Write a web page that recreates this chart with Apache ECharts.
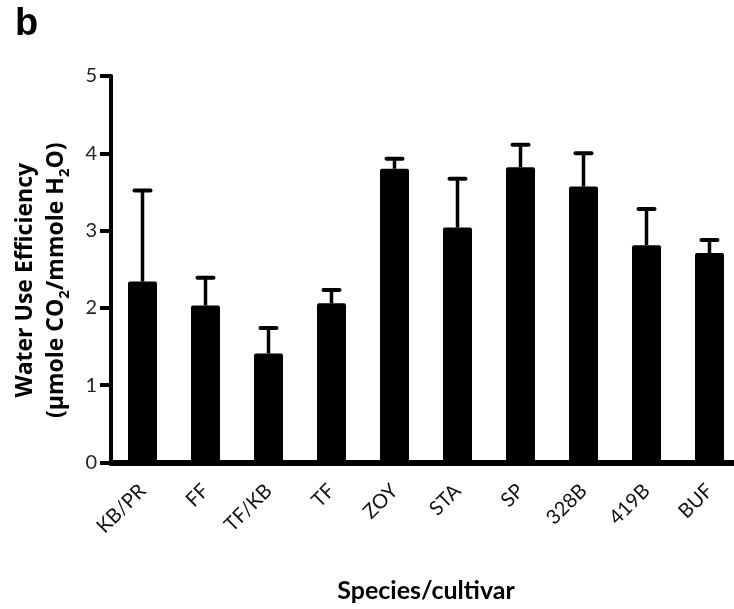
<!DOCTYPE html>
<html>
<head>
<meta charset="utf-8">
<script src="https://cdn.jsdelivr.net/npm/echarts@6/dist/echarts.min.js"></script>
<style>
  html, body { margin: 0; padding: 0; background: #fff; }
  #chart { width: 734px; height: 609px; }
</style>
</head>
<body>
<div id="chart"></div>
<script>
const cultivars = ['KB/PR', 'FF', 'TF/KB', 'TF', 'ZOY', 'STA', 'SP', '328B', '419B', 'BUF']
const wueMean = [2.34, 2.03, 1.41, 2.06, 3.80, 3.04, 3.82, 3.57, 2.81, 2.71]
const wueError = [1.18, 0.36, 0.33, 0.17, 0.13, 0.63, 0.29, 0.43, 0.47, 0.17]
const yTicks = [0, 1, 2, 3, 4, 5]

const chart = echarts.init(document.getElementById('chart'))

function renderErrorBar(params, api) {
  const i = api.value(0)
  const top = api.coord([i, api.value(1) + api.value(2)])
  const base = api.coord([i, api.value(1)])
  const capHalf = 8

  return {
    type: 'group',
    children: [
      {
        type: 'line',
        shape: { x1: base[0], y1: base[1], x2: top[0], y2: top[1] },
        style: { stroke: '#000', lineWidth: 3.5 },
      },
      {
        type: 'line',
        shape: { x1: top[0] - capHalf, y1: top[1], x2: top[0] + capHalf, y2: top[1] },
        style: { stroke: '#000', lineWidth: 4, lineCap: 'round' },
      },
    ],
  }
}

const option = {
  animation: false,
  title: {
    text: 'b',
    left: 10,
    top: 1,
    textStyle: {
      fontFamily: 'Liberation Sans',
      fontSize: 38,
      fontWeight: 'bold',
      color: '#000',
    },
  },
  grid: {
    left: 111,
    right: -7,
    top: 76,
    bottom: 146.5,
    containLabel: false,
    outerBoundsMode: 'none',
  },
  xAxis: {
    type: 'category',
    data: cultivars,
    name: 'Species/cultivar',
    nameLocation: 'middle',
    nameGap: 116,
    nameTextStyle: {
      fontFamily: 'Lato',
      fontSize: 25,
      fontWeight: 'bold',
      color: '#000',
    },
    axisLine: {
      lineStyle: { color: '#000', width: 6 },
    },
    axisTick: {
      alignWithLabel: true,
      length: 14,
      lineStyle: { color: '#000', width: 5 },
    },
    axisLabel: {
      rotate: 45,
      margin: 25,
      fontFamily: 'Lato',
      fontSize: 20,
      color: '#111',
    },
  },
  yAxis: {
    type: 'value',
    min: yTicks[0],
    max: yTicks[yTicks.length - 1],
    interval: 1,
    name: '{a|Water Use Efficiency}\n{a|(µmole CO}{s|2}{a|/mmole H}{s|2}{a|O)}',
    nameLocation: 'middle',
    nameRotate: 90,
    nameGap: 39,
    nameTextStyle: {
      padding: [0, 22, 0, 0],
      rich: {
        a: {
          fontFamily: 'Open Sans',
          fontSize: 23,
          fontWeight: 'bold',
          color: '#000',
          lineHeight: 31,
        },
        s: {
          fontFamily: 'Open Sans',
          fontSize: 15,
          fontWeight: 'bold',
          color: '#000',
          lineHeight: 12,
          verticalAlign: 'bottom',
        },
      },
    },
    splitLine: { show: false },
    axisLine: {
      show: true,
      lineStyle: { color: '#000', width: 4 },
    },
    axisTick: {
      show: true,
      length: 11,
      lineStyle: { color: '#000', width: 4 },
    },
    axisLabel: {
      margin: 14,
      fontFamily: 'Lato',
      fontSize: 20,
      color: '#222',
    },
  },
  series: [
    {
      type: 'bar',
      data: wueMean,
      barWidth: 29,
      itemStyle: { color: '#000', borderRadius: [2, 2, 0, 0] },
      z: 1,
    },
    {
      type: 'custom',
      renderItem: renderErrorBar,
      data: wueMean.map((v, i) => [i, v, wueError[i]]),
      z: 3,
    },
  ],
}

chart.setOption(option)
</script>
</body>
</html>
